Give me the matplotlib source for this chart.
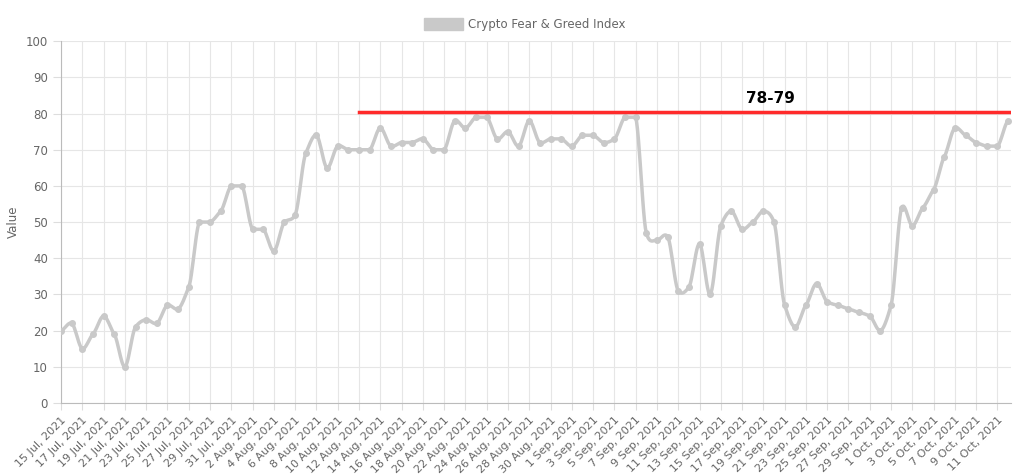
import matplotlib
matplotlib.use("Agg")
import matplotlib.pyplot as plt
import numpy as np
import pandas as pd

dates = pd.date_range("2021-07-15", "2021-10-12", freq="D")
values = [20, 22, 15, 19, 24, 19, 10, 21, 23, 22, 27, 26, 32, 50, 50, 53, 60,
          60, 48, 48, 42, 50, 52, 69, 74, 65, 71, 70, 70, 70, 76, 71, 72, 72, 73, 70, 70,
          78, 76, 79, 79, 73, 75, 71, 78, 72, 73, 73,
          71, 74, 74, 72, 73, 79, 79, 47, 45, 46, 31, 32, 44, 30, 49, 53, 48, 50, 53, 50,
          27, 21, 27, 33, 28, 27, 26, 25, 24, 20,
          27, 54, 49, 54, 59, 68, 76, 74, 72, 71, 71, 78]
labels = [f"{d.day} {d.strftime('%b')}, {d.year}" for d in dates]
band_label = "78-79"
band_level = 80.5
band_start = "2021-08-12"

x = np.arange(len(values))
y = np.array(values, float)

# smoothed display curve (monotone-ish Hermite)
xs, ys = [], []
for i in range(len(x) - 1):
    p0 = y[max(i - 1, 0)]; p1 = y[i]; p2 = y[i + 1]; p3 = y[min(i + 2, len(y) - 1)]
    t = np.linspace(0, 1, 12, endpoint=False)
    m1 = (p2 - p0) / 2 * 0.6; m2 = (p3 - p1) / 2 * 0.6
    if p1 == p2:
        m1 = m2 = 0.0
    h00 = 2*t**3 - 3*t**2 + 1; h10 = t**3 - 2*t**2 + t
    h01 = -2*t**3 + 3*t**2; h11 = t**3 - t**2
    xs.extend(x[i] + t); ys.extend(h00*p1 + h10*m1 + h01*p2 + h11*m2)
xs.append(x[-1]); ys.append(y[-1])

fig = plt.figure(figsize=(10.24, 4.74), dpi=100)
ax = fig.add_axes([0.0596, 0.15, 0.928, 0.763])
col = "#c9c9c9"
ax.plot(xs, ys, color=col, lw=2.5, zorder=3)
ax.plot(x, y, "o", color=col, ms=4, zorder=3)
bs = list(dates).index(pd.Timestamp(band_start))
ax.plot([bs, x[-1] + 0.3], [band_level, band_level], color="#ff2a2a", lw=2.5, zorder=4)
ax.text(66.7, band_level + 1.5, band_label, fontsize=11, fontweight="bold", ha="center", va="bottom")

ax.set_xlim(0, x[-1] + 0.3)
ax.set_ylim(0, 100)
ax.set_yticks(range(0, 101, 10))
ax.set_xticks(x[::2])
ax.set_xticklabels(labels[::2], rotation=45, ha="right", rotation_mode="anchor", fontsize=8, color="#666")
ax.tick_params(axis="y", labelsize=8.5, colors="#666", length=6, color="#ddd")
ax.tick_params(axis="x", length=5, color="#ddd")
ax.grid(True, which="major", color="#e6e6e6", lw=0.8)
for s in ["top", "right"]:
    ax.spines[s].set_visible(False)
for s in ["left", "bottom"]:
    ax.spines[s].set_color("#bbb")
ax.set_ylabel("Value", fontsize=8.5, color="#666")

fig.patches.append(plt.Rectangle((0.414, 0.937), 0.038, 0.025, transform=fig.transFigure, color=col))
fig.text(0.457, 0.949, "Crypto Fear & Greed Index", fontsize=8.5, color="#666", va="center")
fig.savefig("out.png")
